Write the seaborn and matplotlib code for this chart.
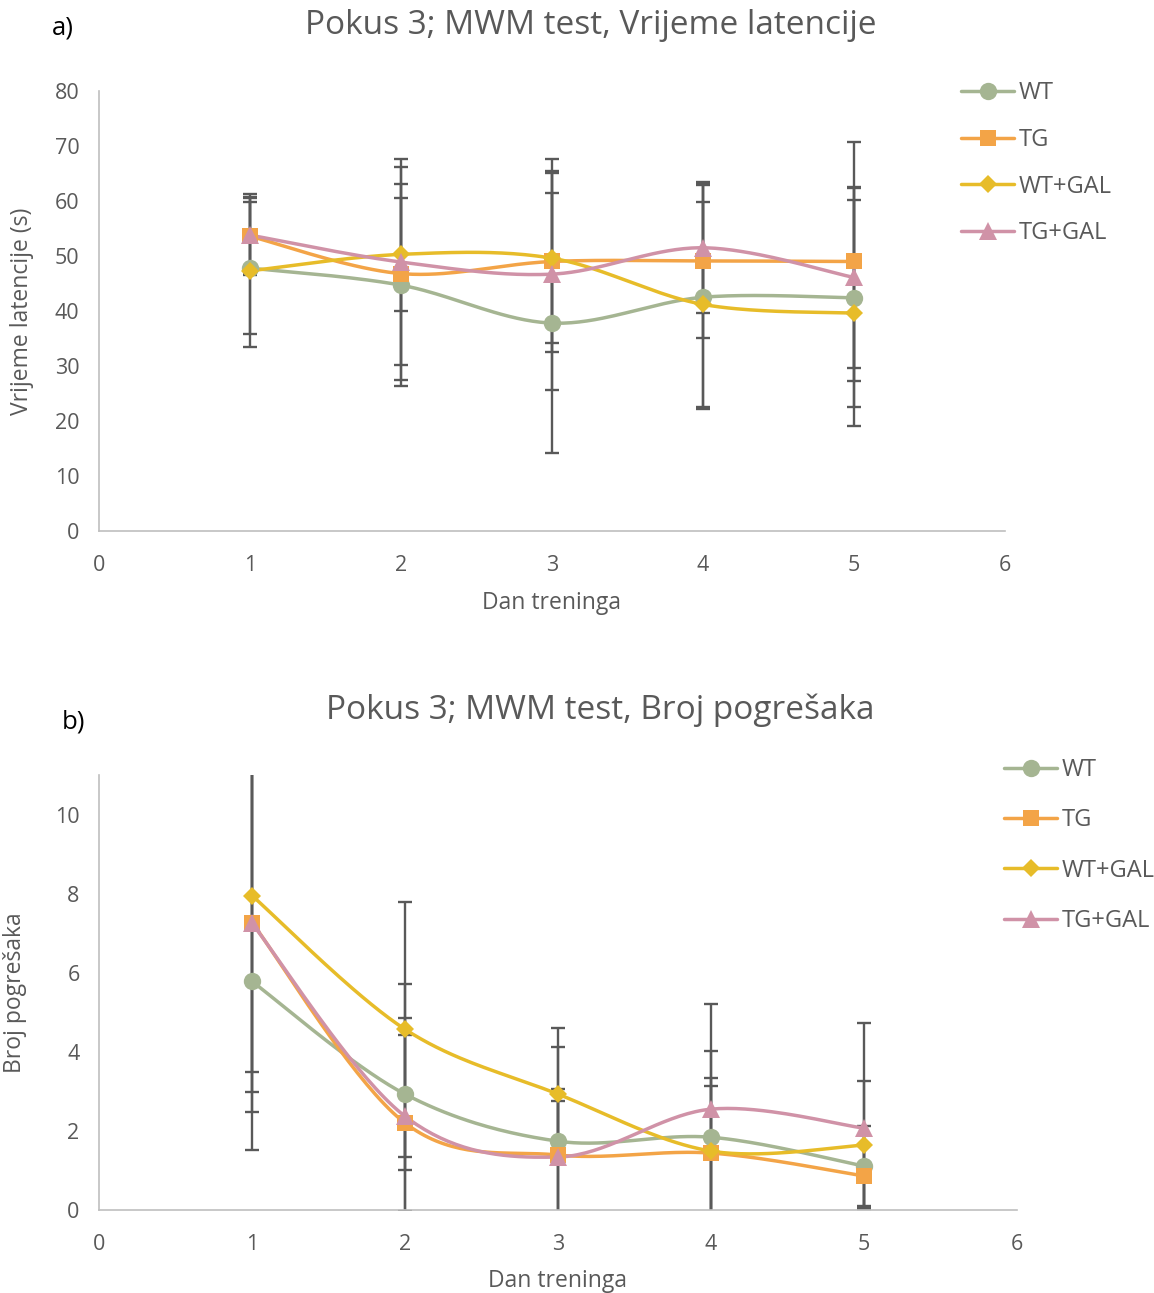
import numpy as np
import pandas as pd
import seaborn as sns
import matplotlib.pyplot as plt
from matplotlib.lines import Line2D

# Data
days = [1, 2, 3, 4, 5]
groups = ['WT', 'TG', 'WT+GAL', 'TG+GAL']

# a) latency time (s), mean and SD
lat_wt = [47.8, 44.7, 37.8, 42.5, 42.4]
lat_tg = [53.6, 46.8, 49.0, 49.1, 49.0]
lat_wtgal = [47.3, 50.3, 49.6, 41.2, 39.6]
lat_tggal = [53.8, 48.9, 46.7, 51.5, 46.1]
lat_err_wt = [12.0, 18.3, 23.7, 20.4, 19.9]
lat_err_tg = [7.0, 19.3, 16.4, 14.1, 21.8]
lat_err_wtgal = [13.9, 10.3, 15.5, 18.6, 20.6]
lat_err_tggal = [7.0, 18.7, 21.0, 11.9, 16.4]

# b) number of errors, mean and lower/upper error
mis_wt = [5.78, 2.93, 1.74, 1.84, 1.11]
mis_tg = [7.27, 2.20, 1.39, 1.44, 0.86]
mis_wtgal = [7.95, 4.57, 2.93, 1.49, 1.64]
mis_tggal = [7.25, 2.37, 1.34, 2.55, 2.07]
mis_lo_wt = [4.26, 1.93, 2.39, 2.18, 1.01]
mis_hi_wt = [5.60, 1.93, 2.39, 2.18, 1.01]
mis_err_tg = [4.28, 2.22, 1.68, 1.89, 0.78]
mis_err_wtgal = [4.46, 3.22, 1.68, 1.64, 1.61]
mis_err_tggal = [4.76, 3.34, 1.42, 2.65, 2.66]

colors = {'WT': '#A5B592', 'TG': '#F3A447', 'WT+GAL': '#E7BC29', 'TG+GAL': '#D092A7'}
markers = {'WT': 'o', 'TG': 's', 'WT+GAL': 'D', 'TG+GAL': '^'}
msizes = {'WT': 12.5, 'TG': 12, 'WT+GAL': 8.7, 'TG+GAL': 13}
GRAY = '#595959'

sns.set_theme(style='white')
plt.rcParams['font.family'] = ['Open Sans', 'DejaVu Sans']


def smooth(x, y, n=40):
    # Excel-style smoothed line (Catmull-Rom as cubic Bezier)
    x = np.asarray(x, float)
    y = np.asarray(y, float)
    px = np.r_[x[0], x, x[-1]]
    py = np.r_[y[0], y, y[-1]]
    t = np.linspace(0, 1, n)
    xs, ys = [], []
    for i in range(1, len(x)):
        p0, p1, p2, p3 = [np.array([px[j], py[j]]) for j in (i - 1, i, i + 1, i + 2)]
        c1 = p1 + (p2 - p0) / 6
        c2 = p2 - (p3 - p1) / 6
        pts = ((1 - t) ** 3)[:, None] * p1 + (3 * (1 - t) ** 2 * t)[:, None] * c1 \
            + (3 * (1 - t) * t ** 2)[:, None] * c2 + (t ** 3)[:, None] * p2
        xs.extend(pts[:, 0])
        ys.extend(pts[:, 1])
    return xs, ys


def draw(ax, means, err_lo, err_hi):
    rows = []
    for g in groups:
        xs, ys = smooth(days, means[g])
        rows += [{'x': a, 'y': b, 'group': g} for a, b in zip(xs, ys)]
    curves = pd.DataFrame(rows)
    for g in groups:
        ax.errorbar(days, means[g], yerr=[err_lo[g], err_hi[g]], fmt='none',
                    ecolor=GRAY, elinewidth=1.7, capsize=5, capthick=1.7, zorder=1)
    sns.lineplot(data=curves, x='x', y='y', hue='group', palette=colors, sort=False,
                 estimator=None, linewidth=2.5, legend=False, ax=ax, zorder=2)
    for g in groups:
        ax.plot(days, means[g], linestyle='none', marker=markers[g], markersize=msizes[g],
                color=colors[g], markeredgewidth=0, zorder=3)
    ax.set_xlim(0, 6)
    ax.set_xticks(range(0, 7))
    for s in ['top', 'right']:
        ax.spines[s].set_visible(False)
    for s in ['left', 'bottom']:
        ax.spines[s].set_color('#BFBFBF')
        ax.spines[s].set_linewidth(1.2)
    ax.tick_params(axis='both', length=0, labelsize=15.5, colors=GRAY)
    ax.tick_params(axis='x', pad=17.5)
    ax.tick_params(axis='y', pad=14)


def legend_handles():
    return [Line2D([], [], color=colors[g], linewidth=2.5, marker=markers[g],
                   markersize=msizes[g], markeredgewidth=0) for g in groups]


fig = plt.figure(figsize=(11.54, 12.93), dpi=100)

# a) latency
ax1 = fig.add_axes([99 / 1154, 1 - 531 / 1293, 906 / 1154, 440 / 1293])
lat_means = {'WT': lat_wt, 'TG': lat_tg, 'WT+GAL': lat_wtgal, 'TG+GAL': lat_tggal}
lat_errs = {'WT': lat_err_wt, 'TG': lat_err_tg, 'WT+GAL': lat_err_wtgal, 'TG+GAL': lat_err_tggal}
draw(ax1, lat_means, lat_errs, lat_errs)
ax1.set_ylim(0, 80)
ax1.set_yticks(range(0, 81, 10))
ax1.set_xlabel('Dan treninga', fontsize=16.5, color=GRAY)
ax1.xaxis.set_label_coords(0.5, -(603 - 531) / 440)
ax1.xaxis.label.set_va('center')
ax1.set_ylabel('Vrijeme latencije (s)', fontsize=16.5, color=GRAY)
ax1.yaxis.set_label_coords(-(99 - 22) / 906, 0.5)
ax1.yaxis.label.set_va('center')
fig.text(591 / 1154, 1 - 25 / 1293, 'Pokus 3; MWM test, Vrijeme latencije',
         fontsize=24, color=GRAY, ha='center', va='center')
fig.text(52 / 1154, 1 - 28 / 1293, 'a)', fontsize=18.5, color='black', va='center')
fig.legend(handles=legend_handles(), labels=groups, loc='upper left',
           bbox_to_anchor=(940 / 1154, 1 - 60 / 1293), frameon=False, fontsize=17,
           labelcolor=GRAY, handlelength=2.25, handletextpad=0.2, labelspacing=0.96)

# b) number of errors
ax2 = fig.add_axes([99 / 1154, 1 - 1210 / 1293, 918 / 1154, 435 / 1293])
mis_means = {'WT': mis_wt, 'TG': mis_tg, 'WT+GAL': mis_wtgal, 'TG+GAL': mis_tggal}
mis_lo = {'WT': mis_lo_wt, 'TG': mis_err_tg, 'WT+GAL': mis_err_wtgal, 'TG+GAL': mis_err_tggal}
mis_hi = {'WT': mis_hi_wt, 'TG': mis_err_tg, 'WT+GAL': mis_err_wtgal, 'TG+GAL': mis_err_tggal}
draw(ax2, mis_means, mis_lo, mis_hi)
ax2.set_ylim(0, 11)
ax2.set_yticks(range(0, 11, 2))
ax2.set_xlabel('Dan treninga', fontsize=16.5, color=GRAY)
ax2.xaxis.set_label_coords(0.5, -(1281 - 1210) / 435)
ax2.xaxis.label.set_va('center')
ax2.set_ylabel('Broj pogrešaka', fontsize=16.5, color=GRAY)
ax2.yaxis.set_label_coords(-(99 - 15) / 918, 0.5)
ax2.yaxis.label.set_va('center')
fig.text(600 / 1154, 1 - 710 / 1293, 'Pokus 3; MWM test, Broj pogrešaka',
         fontsize=24, color=GRAY, ha='center', va='center')
fig.text(62 / 1154, 1 - 722 / 1293, 'b)', fontsize=18.5, color='black', va='center')
fig.legend(handles=legend_handles(), labels=groups, loc='upper left',
           bbox_to_anchor=(983 / 1154, 1 - 737 / 1293), frameon=False, fontsize=17,
           labelcolor=GRAY, handlelength=2.25, handletextpad=0.2, labelspacing=1.11)

fig.savefig('out.png', dpi=100)
